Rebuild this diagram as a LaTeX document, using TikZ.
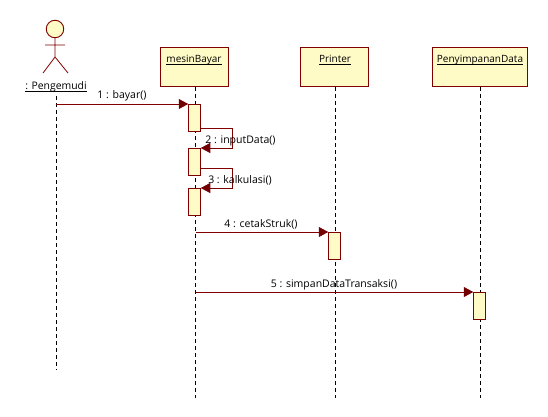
\documentclass[tikz,border=0pt]{standalone}
\usepackage{fontspec}
\setmainfont{Open Sans}
\usetikzlibrary{arrows.meta,calc}
\definecolor{umlline}{HTML}{800000}
\definecolor{umlfill}{HTML}{FFFBC6}
\newcommand{\objname}[1]{\vtop{\hbox{\smash{#1}}\kern1.2pt\hrule height 0.8pt}}
\tikzset{
  x=1pt,y=-1pt,
  objbox/.style={draw=umlline,fill=umlfill,line width=1pt,minimum height=39pt,inner sep=0pt,outer sep=0pt,anchor=north west},
  objtext/.style={font=\fontsize{10}{12}\selectfont,text=black,inner sep=0pt,anchor=base},
  activation/.style={draw=umlline,fill=umlfill,line width=0.9pt,minimum width=12.5pt,minimum height=27pt,inner sep=0pt,outer sep=0pt},
  lifeline/.style={draw=black,line width=0.9pt,dash pattern=on 4pt off 3pt},
  msg/.style={draw=umlline,line width=0.9pt,-{Triangle[length=9.5pt,width=10pt,color=umlline!90!black]}},
  selfmsg/.style={draw=umlline,line width=0.9pt,-{Triangle[length=9.5pt,width=10pt,color=umlline!90!black]}},
  msglabel/.style={font=\fontsize{10.5}{12}\selectfont,text=black,inner sep=0pt,anchor=base},
}
\begin{document}
\begin{tikzpicture}
\useasboundingbox (0,0) rectangle (548,417);
% lifeline ends
\coordinate (e0) at (56,370);
\coordinate (e1) at (195.5,398);
\coordinate (e2) at (335.5,398);
\coordinate (e3) at (480.5,398);
% actor
\node[draw=umlline,fill=umlfill,circle,minimum size=17.5pt,inner sep=0pt,line width=0.9pt] (head) at (55,29) {};
\coordinate (hip) at (55,57);
\coordinate (armL) at (45,45);
\coordinate (armR) at (65,45);
\coordinate (legL) at (43,73);
\coordinate (legR) at (68,73);
\draw[umlline,line width=0.8pt] (head.south) -- (hip) (armL) -- (armR) (legL) -- (hip) -- (legR);
\node[objtext,font=\fontsize{10.4}{12}\selectfont] (actor) at (56,89.5) {\objname{: Pengemudi}};
\coordinate (s0) at (56,96);
% objects
\node[objbox,minimum width=68pt] (o1) at (160,48) {};
\node[objbox,minimum width=68pt] (o2) at (300.5,48) {};
\node[objbox,minimum width=95pt] (o3) at (432.5,48) {};
\node[objtext] (o1t) at (194,62.5) {\objname{mesinBayar}};
\node[objtext] (o2t) at (335,62.5) {\objname{Printer}};
\node[objtext] (o3t) at (480,62.5) {\objname{PenyimpananData}};
% lifelines
\draw[lifeline] (s0) -- (e0);
\draw[lifeline] (o1.south -| e1) -- (e1);
\draw[lifeline] (o2.south -| e2) -- (e2);
\draw[lifeline] (o3.south -| e3) -- (e3);
% activations
\node[activation] (a1) at (194.5,117.5) {};
\node[activation] (a2) at (194.5,161.5) {};
\node[activation] (a3) at (194.5,201.5) {};
\node[activation] (a4) at (334.5,245.5) {};
\node[activation] (a5) at (479.5,305.5) {};
% messages
\draw[msg] (56,104) -- (a1.north west);
\draw[selfmsg] ($(a1.south east)+(0,-3)$) -- ++(31.5,0) |- (a2.north east);
\draw[selfmsg] ($(a2.south east)+(0,-7)$) -- ++(31.5,0) |- (a3.north east);
\draw[msg] (a3.north east |- a4.north west) ++(-5,0) -- (a4.north west);
\draw[msg] (a3.north east |- a5.north west) ++(-5,0) -- (a5.north west);
% labels
\node[msglabel] (l1) at (122,99) {1 : bayar()};
\node[msglabel] (l2) at (240.5,143) {2 : inputData()};
\node[msglabel] (l3) at (240,183) {3 : kalkulasi()};
\node[msglabel] (l4) at (261,227) {4 : cetakStruk()};
\node[msglabel] (l5) at (334,287) {5 : simpanDataTransaksi()};
\end{tikzpicture}
\end{document}
